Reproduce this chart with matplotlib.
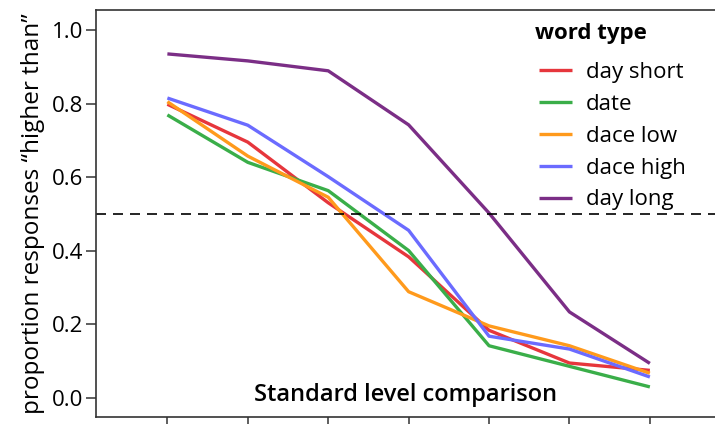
import numpy as np
import matplotlib
matplotlib.use("Agg")
import matplotlib.pyplot as plt

plt.rcParams["font.family"] = ["Open Sans", "DejaVu Sans"]

# comparison levels (unlabelled on the x axis)
levels = [1, 2, 3, 4, 5, 6, 7]

day_short = [0.798, 0.695, 0.530, 0.383, 0.183, 0.094, 0.074]
date = [0.769, 0.640, 0.563, 0.400, 0.141, 0.085, 0.029]
dace_low = [0.805, 0.657, 0.545, 0.288, 0.195, 0.141, 0.066]
dace_high = [0.815, 0.741, 0.601, 0.455, 0.167, 0.132, 0.056]
day_long = [0.935, 0.916, 0.889, 0.742, 0.502, 0.233, 0.093]

series_names = ["day short", "date", "dace low", "dace high", "day long"]
series_values = [day_short, date, dace_low, dace_high, day_long]
COLORS = ["#e6363c", "#3aae49", "#ff9a1c", "#6b6bff", "#7b2e86"]

fig = plt.figure(figsize=(7.15, 4.26), dpi=100)
ax = fig.add_axes([0.134, 0.021, 0.866, 0.956])

for name, vals, color in zip(series_names, series_values, COLORS):
    ax.plot(levels, vals, color=color, linewidth=2.4, label=name,
            solid_capstyle="butt")

ax.axhline(0.5, color="black", linewidth=1.2, linestyle=(0, (6, 4.2)))

ax.set_xlim(0.11, 7.81)
ax.set_ylim(-0.053, 1.055)
ax.set_xticks(levels)
ax.set_xticklabels([])
ax.set_yticks([0.0, 0.2, 0.4, 0.6, 0.8, 1.0])
ax.set_yticklabels(["0.0", "0.2", "0.4", "0.6", "0.8", "1.0"])
ax.tick_params(axis="y", length=7, width=1.1, color="#333333",
               labelsize=16, pad=2)
ax.tick_params(axis="x", length=5, width=1.1, color="#333333")

for side in ["left", "bottom", "top"]:
    ax.spines[side].set_color("#333333")
    ax.spines[side].set_linewidth(1.2)
ax.spines["right"].set_visible(False)

ax.set_ylabel("proportion responses \u201chigher than\u201d", fontsize=17.5,
              labelpad=5)
ax.text(0.5, 0.055, "Standard level comparison", transform=ax.transAxes,
        ha="center", va="center", fontsize=17, fontweight="semibold")

# legend title drawn separately so its gap to the entries can be set
ax.text(0.709, 0.928, "word type", transform=ax.transAxes, ha="left",
        va="baseline", fontsize=16, fontweight="bold")
leg = ax.legend(loc="upper left", bbox_to_anchor=(0.7155, 0.872),
                frameon=False, fontsize=16,
                handlelength=1.5, handletextpad=0.6, labelspacing=0.49,
                borderaxespad=0, borderpad=0)

fig.savefig("out.png", dpi=100)
